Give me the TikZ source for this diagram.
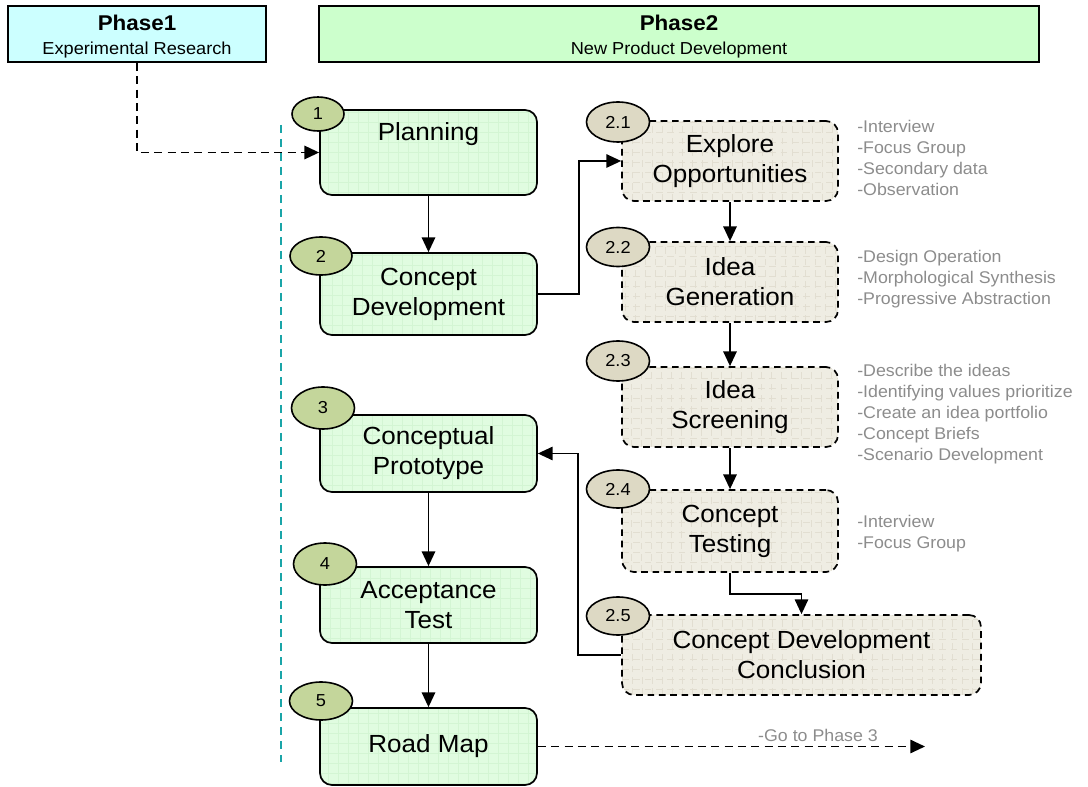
\documentclass[tikz,border=0pt]{standalone}
\usepackage{fontspec}
\setmainfont[FakeStretch=1.05]{Liberation Sans}
\usetikzlibrary{arrows.meta,shapes.geometric}
\definecolor{phaseonefill}{HTML}{CCFFFF}
\definecolor{phasetwofill}{HTML}{CCFFCC}
\definecolor{mainfill}{HTML}{E0FCE0}
\definecolor{maingrid}{HTML}{D3F5D3}
\definecolor{subfill}{HTML}{EFEDE3}
\definecolor{subgrid}{HTML}{E2DED1}
\definecolor{greenell}{HTML}{C4D69B}
\definecolor{beigeell}{HTML}{DDD9C4}
\definecolor{tealline}{HTML}{1AA5A8}
\definecolor{notegray}{HTML}{8C8C8C}
\newdimen\pxu \pxu=0.75pt
\newcommand\dgboxfont{\fontsize{18.6}{22.5}\selectfont}
\newcommand\dgnumfont{\fontsize{13}{14}\selectfont}
\newcommand\dgnotefont{\fontsize{12.7}{15.8}\selectfont}
\newcommand\dgtitlefont{\fontsize{16}{18}\selectfont\bfseries}
\newcommand\dgsubtitlefont{\fontsize{13}{18}\selectfont}
\begin{document}
\begin{tikzpicture}[x=0.75pt,y=-0.75pt,
  gridfill/.style={path picture={\draw[#1,line width=0.3pt]
      (path picture bounding box.south west) grid[step=7.5pt] (path picture bounding box.north east);}},
  phasebox/.style={draw=black,line width=1.6pt,inner sep=0pt,align=center,font=\dgsubtitlefont},
  mainbox/.style={draw=black,line width=1.3pt,rounded corners=9pt,fill=mainfill,gridfill=maingrid,
      align=center,font=\dgboxfont,inner sep=0pt},
  subbox/.style={draw=black,line width=1.3pt,dash pattern=on 5pt off 3.5pt,rounded corners=9pt,
      fill=subfill,gridfill=subgrid,align=center,font=\dgboxfont,inner sep=0pt},
  boxtext/.style={font=\dgboxfont,inner sep=0pt},
  numell/.style={ellipse,draw=black,line width=1.2pt,inner sep=0pt,font=\dgnumfont},
  greennum/.style={numell,fill=greenell},
  beigenum/.style={numell,fill=beigeell},
  note/.style={font=\dgnotefont,text=notegray,align=left,anchor=north west,inner sep=0pt},
  flow/.style={draw=black,line width=1.3pt,-{Triangle[length=11pt,width=10pt]}},
  link/.style={draw=black,line width=1.1pt,-{Triangle[length=11pt,width=10pt]}},
  dasharrow/.style={draw=black,line width=1.4pt,dash pattern=on 6pt off 4pt,-{Triangle[length=11pt,width=10pt]}},
  divider/.style={draw=tealline,line width=1.2pt,dash pattern=on 6pt off 4.5pt}
]
\useasboundingbox (0,0) rectangle (1088,787);

% phase headers
\node[phasebox,fill=phaseonefill,minimum width=258\pxu,minimum height=56\pxu] (p1) at (137,34) {};
\node[font=\dgsubtitlefont,align=center,inner sep=0pt] (p1text) at (137,37)
  {{\dgtitlefont Phase1}\\Experimental Research};
\node[phasebox,fill=phasetwofill,minimum width=720\pxu,minimum height=56\pxu] (p2) at (679,34) {};
\node[font=\dgsubtitlefont,align=center,inner sep=0pt] (p2text) at (679,37)
  {{\dgtitlefont Phase2}\\New Product Development};

% divider
\coordinate (dtop) at (281,125);
\coordinate (dbot) at (281,762);
\draw[divider] (dtop) -- (dbot);

% main column
\node[mainbox,minimum width=217\pxu,minimum height=85\pxu] (plan) at (428.5,152.5) {};
\node[boxtext] (plantext) at (428.5,134) {Planning};
\node[mainbox,minimum width=217\pxu,minimum height=82\pxu] (cdev) at (428.5,294) {Concept\\Development};
\node[mainbox,minimum width=217\pxu,minimum height=77\pxu] (cproto) at (428.5,453.5) {Conceptual\\Prototype};
\node[mainbox,minimum width=217\pxu,minimum height=76\pxu] (accept) at (428.5,605) {Acceptance\\Test};
\node[mainbox,minimum width=217\pxu,minimum height=77\pxu] (road) at (428.5,746.5) {Road Map};

\node[greennum,minimum width=52\pxu,minimum height=34\pxu] (e1) at (318,114) {1};
\node[greennum,minimum width=62\pxu,minimum height=38\pxu] (e2) at (321,256) {2};
\node[greennum,minimum width=63\pxu,minimum height=42\pxu] (e3) at (323,408) {3};
\node[greennum,minimum width=63\pxu,minimum height=42\pxu] (e4) at (325,564) {4};
\node[greennum,minimum width=63\pxu,minimum height=38\pxu] (e5) at (321,701) {5};

% sub column
\node[subbox,minimum width=216\pxu,minimum height=80\pxu] (s21) at (730,161) {Explore\\Opportunities};
\node[subbox,minimum width=216\pxu,minimum height=80\pxu] (s22) at (730,282) {Idea\\Generation};
\node[subbox,minimum width=216\pxu,minimum height=80\pxu] (s23) at (730,407) {Idea\\Screening};
\node[subbox,minimum width=216\pxu,minimum height=82\pxu] (s24) at (730,531) {Concept\\Testing};
\node[subbox,minimum width=359\pxu,minimum height=80\pxu] (s25) at (801.5,655) {Concept Development\\Conclusion};

\node[beigenum,minimum width=63\pxu,minimum height=40\pxu] (e21) at (618,122) {2.1};
\node[beigenum,minimum width=63\pxu,minimum height=39\pxu] (e22) at (618,247) {2.2};
\node[beigenum,minimum width=63\pxu,minimum height=40\pxu] (e23) at (618,361) {2.3};
\node[beigenum,minimum width=63\pxu,minimum height=38\pxu] (e24) at (618,489) {2.4};
\node[beigenum,minimum width=63\pxu,minimum height=38\pxu] (e25) at (618,616) {2.5};

% notes
\node[note] (n21) at (857,120) {-Interview\\-Focus Group\\-Secondary data\\-Observation};
\node[note] (n22) at (857,250) {-Design Operation\\-Morphological Synthesis\\-Progressive Abstraction};
\node[note] (n23) at (857,364) {-Describe the ideas\\-Identifying values prioritize\\-Create an idea portfolio\\-Concept Briefs\\-Scenario Development};
\node[note] (n24) at (857,515) {-Interview\\-Focus Group};

% connectors
\draw[dasharrow] (p1.south) |- (plan.west);
\draw[flow] (plan.south) -- (cdev.north);
\draw[link] (cdev.east) -- ++(41,0) |- (s21.west);
\draw[flow] (s21.south) -- (s22.north);
\draw[flow] (s22.south) -- (s23.north);
\draw[flow] (s23.south) -- (s24.north);
\draw[link] (s24.south) -- ++(0,21) -| (s25.north);
\draw[link] (s25.west) -- ++(-43,0) |- (cproto.east);
\draw[flow] (cproto.south) -- (accept.north);
\draw[flow] (accept.south) -- (road.north);
\coordinate (phase3) at (925,746.5);
\draw[dasharrow] (road.east) -- (phase3);
\node[font=\dgnotefont,text=notegray,inner sep=0pt] (gotext) at (818,735) {-Go to Phase 3};
\end{tikzpicture}
\end{document}
